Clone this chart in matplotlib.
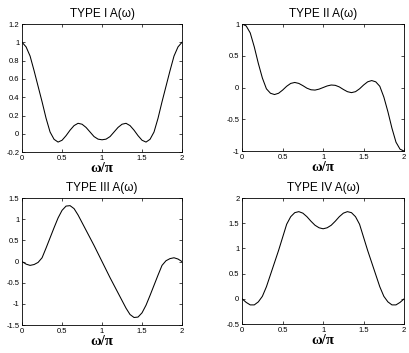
import numpy as np
import matplotlib
matplotlib.use('Agg')
import matplotlib.pyplot as plt

plt.rcParams['font.family'] = ['Liberation Sans', 'DejaVu Sans']
plt.rcParams['axes.unicode_minus'] = False

# frequency grid, w/pi
w = [0.0, 0.05, 0.1, 0.15, 0.2, 0.25, 0.3, 0.35, 0.4, 0.45,
     0.5, 0.55, 0.6, 0.65, 0.7, 0.75, 0.8, 0.85, 0.9, 0.95,
     1.0, 1.05, 1.1, 1.15, 1.2, 1.25, 1.3, 1.35, 1.4, 1.45,
     1.5, 1.55, 1.6, 1.65, 1.7, 1.75, 1.8, 1.85, 1.9, 1.95, 2.0]

A1 = [1.0, 0.95, 0.85, 0.69, 0.52, 0.35, 0.17, 0.02, -0.06, -0.09,
      -0.07, -0.02, 0.04, 0.09, 0.115, 0.105, 0.07, 0.02, -0.03, -0.058,
      -0.065, -0.058, -0.03, 0.02, 0.07, 0.105, 0.115, 0.09, 0.04, -0.02,
      -0.07, -0.09, -0.06, 0.02, 0.17, 0.35, 0.52, 0.69, 0.85, 0.95, 1.0]

A2 = [1.0, 0.97, 0.86, 0.64, 0.38, 0.15, -0.02, -0.09, -0.11, -0.09,
      -0.04, 0.02, 0.065, 0.08, 0.065, 0.03, -0.01, -0.035, -0.04, -0.025,
      0.0, 0.025, 0.04, 0.035, 0.01, -0.03, -0.065, -0.08, -0.065, -0.02,
      0.04, 0.09, 0.11, 0.09, 0.02, -0.15, -0.38, -0.64, -0.86, -0.97, -1.0]

A3 = [0.0, -0.06, -0.09, -0.07, -0.02, 0.09, 0.32, 0.56, 0.80, 1.03,
      1.21, 1.31, 1.32, 1.25, 1.10, 0.92, 0.74, 0.56, 0.38, 0.19,
      0.0, -0.19, -0.38, -0.56, -0.74, -0.92, -1.10, -1.25, -1.32, -1.31,
      -1.21, -1.03, -0.80, -0.56, -0.32, -0.09, 0.02, 0.07, 0.09, 0.06, 0.0]

A4 = [0.0, -0.07, -0.12, -0.12, -0.06, 0.05, 0.24, 0.48, 0.72, 0.96,
      1.22, 1.48, 1.63, 1.71, 1.73, 1.70, 1.63, 1.54, 1.46, 1.41,
      1.39, 1.41, 1.46, 1.54, 1.63, 1.70, 1.73, 1.71, 1.63, 1.48,
      1.22, 0.96, 0.72, 0.48, 0.24, 0.05, -0.06, -0.12, -0.12, -0.07, 0.0]

titles = ['TYPE I A(\u03c9)', 'TYPE II A(\u03c9)', 'TYPE III A(\u03c9)', 'TYPE IV A(\u03c9)']
xticks = [0, 0.5, 1, 1.5, 2]
xticklabels = ['0', '0.5', '1', '1.5', '2']
yticks = [[-0.2, 0, 0.2, 0.4, 0.6, 0.8, 1, 1.2],
          [-1, -0.5, 0, 0.5, 1],
          [-1.5, -1, -0.5, 0, 0.5, 1, 1.5],
          [-0.5, 0, 0.5, 1, 1.5, 2]]
yticklabels = [['-0.2', '0', '0.2', '0.4', '0.6', '0.8', '1', '1.2'],
               ['-1', '-0.5', '0', '0.5', '1'],
               ['-1.5', '-1', '-0.5', '0', '0.5', '1', '1.5'],
               ['-0.5', '0', '0.5', '1', '1.5', '2']]
curves = [A1, A2, A3, A4]

fig = plt.figure(figsize=(4.09, 3.53), dpi=100)
pos = [[0.054, 0.569, 0.391, 0.363],
       [0.592, 0.572, 0.396, 0.360],
       [0.054, 0.079, 0.391, 0.360],
       [0.592, 0.082, 0.396, 0.357]]

for i in range(4):
    ax = fig.add_axes(pos[i])
    ax.plot(w, curves[i], color='black', lw=0.75)
    ax.set_xlim(0, 2)
    ax.set_ylim(yticks[i][0], yticks[i][-1])
    ax.set_xticks(xticks)
    ax.set_xticklabels(xticklabels)
    ax.set_yticks(yticks[i])
    ax.set_yticklabels(yticklabels[i])
    ax.tick_params(direction='in', length=2, width=0.5, labelsize=5.5,
                   top=True, right=True, pad=2)
    for s in ax.spines.values():
        s.set_linewidth(0.6)
    ax.set_title(titles[i], fontsize=8.5, pad=5)
    ax.set_xlabel('\u03c9/\u03c0', fontsize=10.5, fontweight='bold',
                  family=['Liberation Serif', 'DejaVu Serif'], labelpad=0)

fig.savefig('out.png', dpi=100)
